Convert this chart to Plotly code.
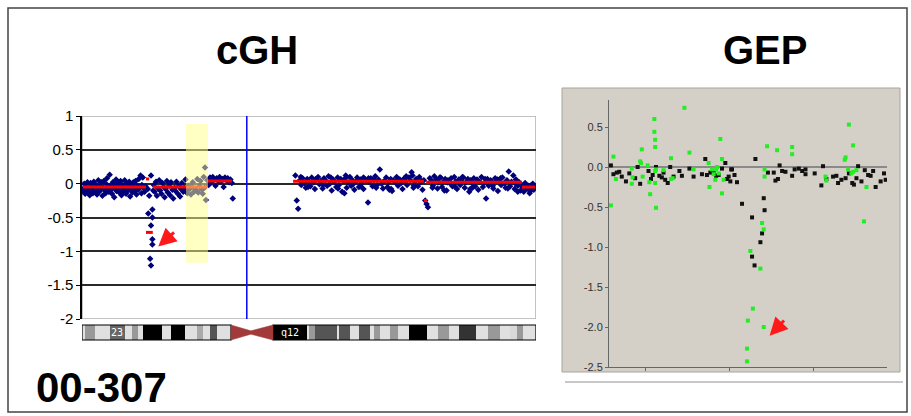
import plotly.graph_objects as go

# ---------------- cGH data (x = relative position along chromosome, 0-100) ----------------
cgh_a_x = [0.2,0.4,0.5,0.7,0.9,1.0,1.2,1.4,1.5,1.7,
           1.9,2.1,2.2,2.4,2.6,2.8,2.9,3.1,3.3,3.4,
           3.6,3.8,4.0,4.1,4.3,4.5,4.7,4.8,5.0,5.2,
           5.4,5.5,5.7,5.9,6.1,6.2,6.4,6.6,6.8,6.9,
           7.1,7.3,7.5,7.6,7.8,8.0,8.2,8.3,8.5,8.7,
           8.9,9.0,9.2,9.4,9.6,9.7,9.9,10.1,10.3,10.4,
           10.6,10.8,11.0,11.1,11.3,11.5,11.7,11.8,12.0,12.2,
           12.4,12.5,12.7,12.9,13.1,13.2,13.4,13.6,13.8,14.0]
cgh_a_y = [-0.08,-0.12,0.00,-0.15,-0.05,-0.10,0.02,-0.13,-0.06,-0.17,
           0.01,-0.09,-0.04,-0.14,0.03,-0.07,-0.11,-0.02,-0.16,-0.08,
           0.05,-0.12,-0.03,-0.09,0.02,-0.18,-0.06,0.04,-0.10,-0.14,
           -0.01,0.08,-0.07,-0.12,0.13,-0.04,-0.09,-0.15,0.02,-0.06,
           -0.20,-0.03,0.06,-0.11,-0.08,0.01,-0.13,-0.05,0.04,-0.17,
           -0.09,-0.02,-0.12,0.05,-0.07,-0.15,0.00,-0.10,-0.04,0.03,
           -0.19,-0.08,-0.01,-0.13,0.02,-0.06,-0.11,0.04,-0.16,-0.03,
           -0.09,0.07,-0.05,0.12,-0.14,-0.02,0.09,-0.07,-0.12,-0.04]
cgh_d_x = [14.6,15.5,15.5,15.2,15.5,15.5,15.0,15.2,15.2,14.5,14.8,15.7]
cgh_d_y = [-0.44,-0.38,-0.50,-0.62,-0.82,-0.90,-1.11,-1.21,0.12,-0.08,-0.18,-0.10]
cgh_m_x = [15.8,16.0,16.3,16.5,16.8,17.0,17.2,17.5,17.7,18.0,
           18.2,18.4,18.7,18.9,19.2,19.4,19.6,19.9,20.1,20.4,
           20.6,20.8,21.1,21.3,21.6,21.8,22.0,22.3,22.5,22.8,
           23.0,23.2,23.5,23.7,24.0,24.2,24.4,24.7,24.9,25.2,
           25.4,25.6,25.9,26.1,26.4,26.6,26.8,27.0,27.1,27.3]
cgh_m_y = [-0.02,-0.12,0.03,-0.18,-0.07,0.05,-0.10,-0.15,0.01,-0.05,
           -0.20,-0.08,0.04,-0.13,-0.03,-0.17,0.02,-0.09,-0.22,-0.06,
           -0.11,0.03,-0.15,-0.04,-0.19,-0.08,0.01,-0.12,-0.06,0.06,
           -0.10,-0.14,-0.03,-0.08,-0.16,-0.05,0.02,-0.12,-0.07,-0.10,
           0.07,-0.13,-0.04,0.04,-0.09,-0.15,0.10,-0.06,0.24,-0.24]
cgh_r_x = [27.6,27.9,28.2,28.5,28.8,29.1,29.4,29.7,30.0,30.3,
           30.6,30.9,31.2,31.5,31.8,32.1,32.4,32.7,33.0,33.2]
cgh_r_y = [0.05,-0.02,0.09,0.02,0.10,0.06,-0.03,0.08,0.04,0.10,
           0.03,0.07,-0.05,0.09,0.05,0.08,0.02,0.06,0.01,-0.22]
cgh_q_x = [47.0,47.3,47.6,48.0,48.3,48.6,49.0,49.3,49.6,50.0,
           50.3,50.6,51.0,51.3,51.6,52.0,52.3,52.6,53.0,53.3,
           53.6,54.0,54.3,54.6,55.0,55.3,55.6,56.0,56.3,56.6,
           57.0,57.3,57.6,58.0,58.3,58.6,59.0,59.3,59.6,60.0,
           60.3,60.6,61.0,61.3,61.6,62.0,62.3,62.6,63.0,63.3,
           63.6,64.0,64.3,64.6,65.0,65.3,65.6,66.0,66.3,66.6,
           67.0,67.3,67.6,68.0,68.3,68.6,69.0,69.3,69.6,70.0,
           70.3,70.6,71.0,71.3,71.6,72.0,72.3,72.6,73.0,73.3,
           73.6,74.0,74.3,74.6,75.0,75.3,75.6,75.9,76.2,76.6,
           77.0,77.3,77.6,78.0,78.3,78.6,79.0,79.3,79.6,80.0,
           80.3,80.6,81.0,81.3,81.6,82.0,82.3,82.6,83.0,83.3,
           83.6,84.0,84.3,84.6,85.0,85.3,85.6,86.0,86.3,86.6,
           87.0,87.3,87.6,88.0,88.3,88.6,89.0,89.3,89.6,90.0,
           90.3,90.6,91.0,91.3,91.6,92.0,92.3,92.6,93.0,93.3,
           93.6,94.0,94.3,94.6,95.0,95.3,95.6,96.0,96.3,96.6,
           97.0,97.3,97.6,98.0,98.3,98.6,99.0,99.3,99.5,99.8]
cgh_q_y = [0.12,-0.25,-0.37,0.05,-0.02,0.08,0.01,-0.06,0.07,0.03,
           -0.04,0.09,0.02,-0.08,0.06,0.10,-0.01,0.04,-0.07,0.08,
           0.05,-0.03,0.11,0.00,-0.10,0.06,0.03,-0.05,0.09,-0.02,
           0.07,-0.12,0.04,0.08,-0.06,0.02,0.10,-0.03,0.05,-0.09,
           0.03,0.09,-0.05,0.06,0.01,-0.08,0.07,0.04,-0.28,0.02,
           0.08,-0.04,0.05,0.11,-0.02,0.06,0.21,0.00,-0.07,0.04,
           0.09,-0.05,0.03,0.07,-0.11,0.05,0.02,0.10,-0.03,0.06,
           0.01,-0.08,0.08,0.04,-0.02,0.09,0.05,0.17,-0.06,0.03,
           0.07,-0.04,0.10,0.02,-0.09,0.05,-0.25,-0.30,-0.35,0.08,
           0.04,-0.03,0.11,0.06,-0.07,0.02,0.09,-0.05,0.03,0.07,
           -0.10,0.05,0.01,0.08,-0.04,0.10,0.03,-0.08,0.06,-0.02,
           0.04,0.09,-0.06,0.02,0.07,-0.12,0.05,0.00,0.08,-0.04,
           0.06,-0.09,0.03,0.10,-0.05,0.01,-0.22,0.07,-0.03,0.05,
           0.02,-0.07,0.08,0.04,-0.11,0.06,-0.02,0.09,0.01,-0.06,
           0.05,0.18,-0.04,0.03,0.12,-0.08,0.06,-0.03,0.02,-0.10,
           -0.05,-0.12,0.01,-0.08,-0.03,-0.14,-0.06,0.00,-0.09,-0.04]
# second, interleaved probe set on the q arm (denser cloud)
cgh_q2_x = [48.2,49.8,51.5,53.1,54.8,56.4,58.1,59.8,61.4,63.1,
            64.8,66.4,68.1,69.8,71.4,73.1,74.8,77.2,78.8,80.5,
            82.2,83.8,85.5,87.2,88.8,90.5,92.2,93.8,95.5,97.2,
            98.8,57.8,62.0,67.7,72.8,79.8,86.0,91.5,96.0,99.0]
cgh_q2_y = [0.10,-0.05,0.07,-0.02,0.09,-0.07,0.12,0.00,-0.04,0.08,
            -0.06,0.03,-0.08,0.06,0.11,-0.03,0.04,-0.06,0.09,0.02,
            -0.05,0.10,-0.08,0.04,0.07,-0.03,0.08,-0.07,0.00,-0.02,
            -0.11,-0.14,0.09,-0.09,0.12,-0.10,-0.06,0.06,-0.12,-0.02]

# segmentation (start, end, level)
seg_start = [0.2, 14.1, 14.1, 15.6, 27.5, 46.5, 75.3, 75.8, 96.9]
seg_end   = [14.1, 14.8, 15.6, 27.5, 33.0, 75.3, 76.0, 96.9, 99.8]
seg_level = [-0.05, 0.07, -0.72, -0.05, 0.04, 0.035, -0.25, 0.02, -0.05]

cgh_yticks = [1, 0.5, 0, -0.5, -1, -1.5, -2]
cgh_yticktext = ["1", "0.5", "0", "-0.5", "-1", "-1.5", "-2"]

# chromosome ideogram bands
band_start = [0, 0.66, 2.86, 6.17, 9.47, 11.01, 12.33, 13.44, 17.62, 19.60, 22.69, 25.33, 26.65, 28.19, 29.74,
              42.07, 49.56, 50.0, 51.32, 56.17, 56.61, 59.03, 61.01, 63.44, 64.32, 65.64, 67.84, 69.60, 72.03,
              75.99, 78.41, 80.84, 83.04, 86.78, 89.43, 92.07, 94.27, 95.81, 97.14]
band_end = [0.66, 2.86, 6.17, 9.47, 11.01, 12.33, 13.44, 17.62, 19.60, 22.69, 25.33, 26.65, 28.19, 29.74, 32.82,
            49.56, 50.0, 51.32, 56.17, 56.61, 59.03, 61.01, 63.44, 64.32, 65.64, 67.84, 69.60, 72.03, 75.99,
            78.41, 80.84, 83.04, 86.78, 89.43, 92.07, 94.27, 95.81, 97.14, 100]
band_color = ["#e0e0e0", "#999999", "#e0e0e0", "#666666", "#e0e0e0", "#999999", "#e0e0e0", "#000000", "#e0e0e0",
              "#000000", "#e0e0e0", "#aaaaaa", "#e0e0e0", "#555555", "#e0e0e0",
              "#000000", "#e0e0e0", "#999999", "#555555", "#e0e0e0", "#555555", "#e0e0e0", "#555555", "#e0e0e0",
              "#999999", "#e0e0e0", "#999999", "#e0e0e0", "#000000", "#e0e0e0", "#999999", "#e0e0e0", "#333333",
              "#e0e0e0", "#999999", "#e0e0e0", "#d8d8d8", "#999999", "#e0e0e0"]
centromere = [32.82, 37.2, 42.07]
band_labels = ["23", "q12"]
band_label_x = [7.8, 45.8]
highlight_x = [22.9, 27.75]
highlight_y = [-1.17, 0.88]
centromere_line_x = 36.3

# ---------------- GEP data ----------------
gep_green_x = [0.58,0.61,0.64,0.83,0.83,0.84,0.93,0.94,0.95,0.96,
               1.02,1.04,1.05,1.10,1.10,1.11,1.11,1.11,1.12,1.11,
               1.12,1.21,1.30,1.30,1.32,1.46,1.52,1.57,1.75,1.76,
               1.79,1.81,1.83,1.84,1.85,1.87,1.89,1.91,1.91,1.93,
               2.45,2.57,2.75,2.75,2.42,2.42,2.39,2.41,2.25,2.37,
               2.28,2.22,2.41,2.21,2.21,3.43,3.48,3.39,3.38,3.42,
               3.46,3.48,3.52,3.15,3.16,3.64,3.61]
gep_green_y = [-0.48,0.13,-0.15,-0.02,-0.21,-0.13,0.07,0.05,0.22,-0.12,
               0.02,-0.19,-0.34,0.60,0.44,0.34,0.25,-0.05,-0.03,-0.20,
               -0.51,-0.04,0.11,-0.15,-0.14,0.74,0.18,-0.03,0.05,-0.25,
               -0.03,-0.09,-0.16,-0.03,0.00,-0.08,0.35,0.10,-0.33,-0.16,
               0.26,0.21,0.25,0.16,-0.03,-0.12,-0.70,-0.78,-1.05,-1.27,
               -1.77,-1.92,-2.00,-2.27,-2.43,0.53,0.27,0.12,0.09,-0.03,
               -0.08,-0.06,-0.04,-0.12,-0.17,-0.25,-0.68]
gep_black_x = [0.58,0.61,0.65,0.68,0.71,0.76,0.80,0.87,0.90,0.93,
               1.03,1.06,1.08,1.12,1.16,1.19,1.21,1.23,1.26,1.29,
               1.33,1.40,1.43,1.52,1.57,1.67,1.71,1.73,1.77,1.81,
               1.84,1.87,1.91,1.95,1.97,1.99,2.01,2.02,2.03,2.06,
               2.09,2.15,2.27,2.31,2.27,2.30,2.37,2.39,2.41,2.42,
               2.46,2.53,2.55,2.58,2.60,2.63,2.67,2.75,2.78,2.83,
               2.87,2.91,2.91,3.02,3.12,3.10,3.16,3.24,3.28,3.30,
               3.34,3.39,3.43,3.47,3.49,3.52,3.54,3.58,3.62,3.66,
               3.69,3.72,3.75,3.81,3.85,3.87]
gep_black_y = [0.02,-0.09,-0.07,-0.06,-0.12,-0.18,-0.08,-0.14,0.00,-0.21,
               -0.05,-0.15,-0.10,0.00,-0.11,-0.13,-0.07,-0.16,-0.20,0.00,
               -0.12,-0.05,-0.11,-0.02,-0.12,-0.09,0.10,-0.10,-0.07,-0.07,
               -0.11,-0.10,-0.02,0.05,-0.15,-0.12,-0.18,-0.03,-0.03,-0.10,
               -0.19,-0.46,-0.63,0.10,-1.12,-1.23,-0.94,-0.83,-0.39,-0.54,
               -0.07,-0.07,-0.17,-0.15,0.02,-0.05,-0.06,-0.11,-0.03,-0.02,
               -0.05,-0.03,-0.09,-0.08,0.01,-0.23,-0.15,-0.12,-0.11,-0.20,
               -0.16,-0.14,-0.08,-0.20,-0.22,-0.14,0.01,-0.18,-0.04,-0.10,
               -0.11,-0.05,-0.25,-0.18,-0.08,-0.16]
gep_yticks = [0.5, 0.0, -0.5, -1.0, -1.5, -2.0, -2.5]
gep_yticktext = ["0.5", "0.0", "-0.5", "-1.0", "-1.5", "-2.0", "-2.5"]
gep_xgrid = [1, 2, 3]

# arrows: (tip_x, tip_y, tail_x, tail_y)
cgh_arrow = [16.8, -0.93, 20.6, -0.70]
gep_arrow = [2.48, -2.11, 2.67, -1.90]

# ---------------- figure ----------------
W, H = 911, 416
def px_x(p): return p / W
def px_y(p): return 1 - p / H

fig = go.Figure()

navy = "#00007a"
all_x = cgh_a_x + cgh_d_x + cgh_m_x + cgh_r_x + cgh_q_x + cgh_q2_x
all_y = cgh_a_y + cgh_d_y + cgh_m_y + cgh_r_y + cgh_q_y + cgh_q2_y
fig.add_trace(go.Scatter(x=all_x, y=all_y, mode="markers", xaxis="x", yaxis="y",
                         marker=dict(symbol="diamond", size=5, color=navy, line=dict(width=0)),
                         showlegend=False, hoverinfo="skip"))
for s, e, lv in zip(seg_start, seg_end, seg_level):
    fig.add_trace(go.Scatter(x=[s, e], y=[lv, lv], mode="lines", xaxis="x", yaxis="y",
                             line=dict(color="#ff0000", width=3), showlegend=False, hoverinfo="skip"))

fig.add_trace(go.Scatter(x=gep_black_x, y=gep_black_y, mode="markers", xaxis="x2", yaxis="y2",
                         marker=dict(symbol="square", size=4, color="#111111"), showlegend=False, hoverinfo="skip"))
fig.add_trace(go.Scatter(x=gep_green_x, y=gep_green_y, mode="markers", xaxis="x2", yaxis="y2",
                         marker=dict(symbol="square", size=4, color="#22ee22"), showlegend=False, hoverinfo="skip"))

shapes = []
# outer frame
shapes.append(dict(type="rect", xref="paper", yref="paper", x0=px_x(8), x1=px_x(907), y0=px_y(412), y1=px_y(8),
                   line=dict(color="#444444", width=1.5), layer="below"))
# GEP grey panel
shapes.append(dict(type="rect", xref="paper", yref="paper", x0=px_x(562), x1=px_x(900), y0=px_y(372), y1=px_y(88),
                   line=dict(color="#a8a49c", width=1), fillcolor="#d4d0c8", layer="below"))
shapes.append(dict(type="line", xref="paper", yref="paper", x0=px_x(565), x1=px_x(903), y0=px_y(382), y1=px_y(382),
                   line=dict(color="#c8c8c8", width=2), layer="below"))
# cGH plot border (gray)
shapes.append(dict(type="rect", xref="x", yref="y", x0=0, x1=100, y0=-2, y1=1,
                   line=dict(color="#b0b0b0", width=1.5), layer="below"))
# yellow highlight
shapes.append(dict(type="rect", xref="x", yref="y", x0=highlight_x[0], x1=highlight_x[1],
                   y0=highlight_y[0], y1=highlight_y[1], line=dict(width=0),
                   fillcolor="#ffff88", opacity=0.5, layer="above"))
# blue centromere line
shapes.append(dict(type="line", xref="x", yref="y", x0=centromere_line_x, x1=centromere_line_x, y0=-2, y1=1,
                   line=dict(color="#0000ff", width=1.5), layer="above"))
# ideogram
iy0, iy1 = px_y(340), px_y(325)
for s, e, c in zip(band_start, band_end, band_color):
    shapes.append(dict(type="rect", xref="x", yref="paper", x0=s, x1=e, y0=iy0, y1=iy1,
                       line=dict(width=0), fillcolor=c, layer="above"))
shapes.append(dict(type="rect", xref="x", yref="paper", x0=0, x1=centromere[0], y0=iy0, y1=iy1,
                   line=dict(color="#000000", width=1.2), layer="above"))
shapes.append(dict(type="rect", xref="x", yref="paper", x0=centromere[2], x1=100, y0=iy0, y1=iy1,
                   line=dict(color="#000000", width=1.2), layer="above"))
ym = (iy0 + iy1) / 2
wd = 0.004
c0, cm, c1 = centromere
path = (f"M {c0},{iy1} L {cm},{ym + wd} L {c1},{iy1} L {c1},{iy0} L {cm},{ym - wd} L {c0},{iy0} Z")
shapes.append(dict(type="path", xref="x", yref="paper", path=path, fillcolor="#a33a3a",
                   line=dict(color="#a33a3a", width=0.5), layer="above"))

annotations = []
for lab, lx in zip(band_labels, band_label_x):
    annotations.append(dict(x=lx, y=(iy0 + iy1) / 2, xref="x", yref="paper", text=lab, showarrow=False,
                            xanchor="center", yanchor="middle",
                            font=dict(family="DejaVu Sans Mono", size=10, color="#ffffff")))
annotations.append(dict(x=px_x(257), y=px_y(50), xref="paper", yref="paper", text="<b>cGH</b>", showarrow=False,
                        xanchor="center", yanchor="middle",
                        font=dict(family="Liberation Sans, Arial", size=40, color="#000000")))
annotations.append(dict(x=px_x(765), y=px_y(50), xref="paper", yref="paper", text="<b>GEP</b>", showarrow=False,
                        xanchor="center", yanchor="middle",
                        font=dict(family="Liberation Sans, Arial", size=40, color="#000000")))
annotations.append(dict(x=px_x(34), y=px_y(387), xref="paper", yref="paper", text="<b>00-307</b>", showarrow=False,
                        xanchor="left", yanchor="middle",
                        font=dict(family="Liberation Sans, Arial", size=42, color="#000000")))
annotations.append(dict(x=cgh_arrow[0], y=cgh_arrow[1], ax=cgh_arrow[2], ay=cgh_arrow[3], xref="x", yref="y",
                        axref="x", ayref="y", text="", showarrow=True, arrowhead=2, arrowsize=1.2,
                        arrowwidth=3, arrowcolor="#ff1a1a"))
annotations.append(dict(x=gep_arrow[0], y=gep_arrow[1], ax=gep_arrow[2], ay=gep_arrow[3], xref="x2", yref="y2",
                        axref="x2", ayref="y2", text="", showarrow=True, arrowhead=2, arrowsize=1.2,
                        arrowwidth=3, arrowcolor="#ff1a1a"))

fig.update_layout(
    width=W, height=H, margin=dict(l=0, r=0, t=0, b=0, autoexpand=False), autosize=False,
    paper_bgcolor="#ffffff", plot_bgcolor="#ffffff",
    shapes=shapes, annotations=annotations,
    xaxis=dict(domain=[px_x(82), px_x(536)], range=[0, 100], showgrid=False, zeroline=False,
               showticklabels=False, ticks="", showline=False, anchor="y", automargin=False),
    yaxis=dict(domain=[px_y(319), px_y(116)], range=[-2, 1], tickvals=cgh_yticks, ticktext=cgh_yticktext,
               showgrid=True, gridcolor="#2a2a2a", gridwidth=1.5, zeroline=False, showline=True,
               linecolor="#000000", linewidth=1.5, ticks="outside", ticklen=4, tickcolor="#000000",
               tickfont=dict(family="Liberation Sans, Arial", size=15, color="#000000"), anchor="x",
               automargin=False),
    xaxis2=dict(domain=[px_x(609), px_x(887)], range=[0.557, 3.886], tickvals=gep_xgrid, showticklabels=False,
                ticks="outside", ticklen=3, tickcolor="#666666", showgrid=True, gridcolor="#d0d0d0",
                griddash="dash", gridwidth=1, zeroline=False, showline=True, linecolor="#666666",
                linewidth=1, anchor="y2", automargin=False),
    yaxis2=dict(domain=[px_y(367), px_y(100)], range=[-2.5, 0.8375], tickvals=gep_yticks, ticktext=gep_yticktext,
                showgrid=True, gridcolor="#d0d0d0", griddash="dash", gridwidth=1, zeroline=True,
                zerolinecolor="#8a8a8a", zerolinewidth=1.5, showline=True, linecolor="#666666", linewidth=1,
                ticks="outside", ticklen=3, tickcolor="#666666",
                tickfont=dict(family="Liberation Sans, Arial", size=11, color="#333333"), anchor="x2",
                automargin=False),
)

fig.write_html("out.html", config={"responsive": False, "displayModeBar": False},
               post_script="document.body.style.margin='0';document.body.style.overflow='hidden';")
